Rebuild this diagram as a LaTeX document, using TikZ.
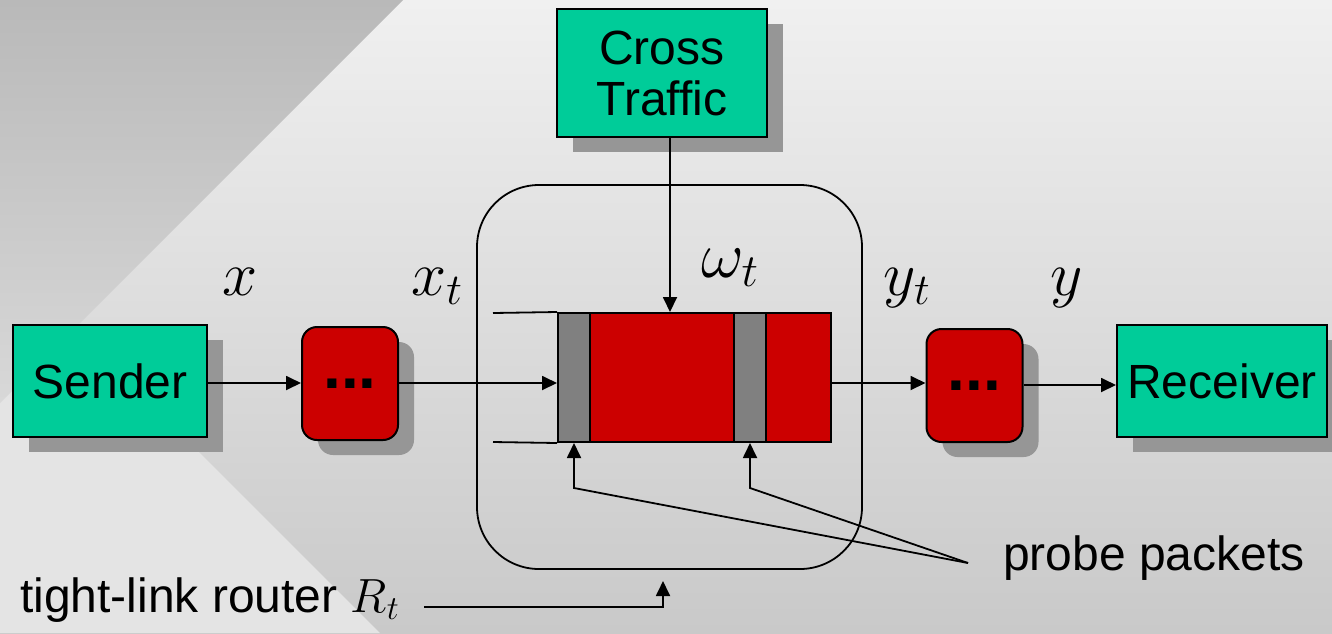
\documentclass[tikz,border=0pt]{standalone}
\usepackage{fix-cm}
\usepackage{fontspec}
\setmainfont{Liberation Sans}
\usetikzlibrary{arrows.meta,shadows}
\definecolor{boxgreen}{HTML}{00CC99}
\definecolor{boxred}{HTML}{CC0000}
\definecolor{bargray}{HTML}{808080}
\definecolor{shadowgray}{HTML}{969696}
\definecolor{bgtop}{HTML}{F0F0F0}
\definecolor{bgbottom}{HTML}{C9C9C9}
\definecolor{bglight}{HTML}{E4E4E4}
\definecolor{bgdarktop}{HTML}{B9B9B9}
\definecolor{bgdarkbottom}{HTML}{D8D8D8}
\begin{document}
\begin{tikzpicture}[x=1pt,y=-1pt,
  txt/.style={font=\fontsize{48}{56}\selectfont},
  boxshadow/.style={drop shadow={shadow xshift=16pt,shadow yshift=-15pt,fill=shadowgray,opacity=1}},
  greenbox/.style={draw,line width=2pt,fill=boxgreen,inner sep=0pt,boxshadow,txt},
  dotsbox/.style={draw,line width=2pt,fill=boxred,rounded corners=15pt,inner sep=0pt,boxshadow,
    font=\fontsize{64}{70}\selectfont\bfseries,minimum width=96pt,minimum height=113pt},
  conn/.style={line width=1.8pt},
  arr/.style={line width=1.8pt,-{Triangle[length=15pt,width=14pt]}},
  mlabel/.style={font=\fontsize{63}{70}\selectfont,anchor=base,inner sep=0pt},
  slot/.style={draw,line width=2pt,inner sep=0pt}]
\useasboundingbox (0,0) rectangle (1332,633);

% backdrop
\shade[top color=bgtop,bottom color=bgbottom] (0,0) rectangle (1332,633);
\fill[bglight] (0,253) -- (380,633) -- (0,633) -- cycle;
\shade[top color=bgdarktop,bottom color=bgdarkbottom] (0,0) -- (403,0) -- (0,403) -- cycle;

% router outline
\node[draw,line width=1.8pt,rounded corners=62pt,minimum width=385pt,minimum height=384pt] (router) at (669.5,377) {};

% end hosts and cross traffic source
\node[greenbox,minimum width=194pt,minimum height=112pt] (sender) at (110,381) {Sender};
\node[greenbox,minimum width=210pt,minimum height=112pt] (receiver) at (1222,381) {Receiver};
\node[greenbox,minimum width=210pt,minimum height=128pt,align=center] (cross) at (662,73) {Cross\\[-5pt]Traffic};

% intermediate hops
\node[dotsbox] (hopa) at (350,383.5) {...};
\node[dotsbox] (hopb) at (974.5,385.5) {...};

% queue of the tight link
\node[slot,fill=boxred,minimum width=273pt,minimum height=129pt] (queue) at (694.5,377.5) {};
\node[slot,fill=bargray,minimum width=32pt,minimum height=129pt] (pa) at (574,377.5) {};
\node[slot,fill=bargray,minimum width=32pt,minimum height=129pt] (pb) at (750,377.5) {};
\coordinate (qtop) at (493,313);
\coordinate (qbot) at (493,442);
\draw[conn] (qtop) -- (queue.north west);
\draw[conn] (qbot) -- (queue.south west);

% flow of packets
\coordinate (row) at (0,383);
\draw[arr] (sender.east |- row) -- (hopa.west |- row);
\draw[arr] (hopa.east |- row) -- (queue.west |- row);
\draw[arr] (queue.east |- row) -- (hopb.west |- row);
\coordinate (rowb) at (0,385);
\draw[arr] (hopb.east |- rowb) -- (receiver.west |- rowb);

% cross traffic into the queue
\coordinate (ctx) at (670,0);
\draw[arr] (cross.south -| ctx) -- (queue.north -| ctx);

% rate labels
\node[mlabel] (lx) at (240,295) {$x$};
\node[mlabel] (lxt) at (437,295) {$x_t$};
\node[mlabel,font=\fontsize{66}{72}\selectfont] (lw) at (730,277) {$\omega_t$};
\node[mlabel] (lyt) at (907,295) {$y_t$};
\node[mlabel] (ly) at (1067,295) {$y$};

% probe packet callout
\node[txt,anchor=base west,inner sep=0pt] (probe) at (1003,570) {probe packets};
\coordinate (pp) at (968,563);
\coordinate (bend) at (0,488);
\draw[arr] (pp) -- (pa.south |- bend) -- (pa.south);
\draw[arr] (pp) -- (pb.south |- bend) -- (pb.south);

% router callout
\node[txt,anchor=base west,inner sep=0pt] (rlabel) at (20,612) {tight-link router $R_t$};
\coordinate (rstart) at (424,607);
\coordinate (rtip) at (663,581);
\draw[arr] (rstart) -- (rstart -| rtip) -- (rtip);
\end{tikzpicture}
\end{document}
